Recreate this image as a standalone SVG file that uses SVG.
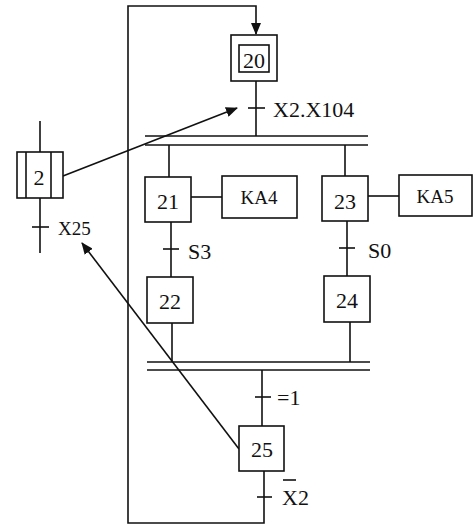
<svg xmlns="http://www.w3.org/2000/svg" width="474" height="525" viewBox="0 0 474 525">
<style>
.b{fill:#fff;stroke:#111;stroke-width:1.6}
.l{fill:none;stroke:#111;stroke-width:1.6}
.t{font-family:"Liberation Serif","Times New Roman",serif;font-size:22px;fill:#111}
.s{font-size:19px}
.m{text-anchor:middle}
</style>
<defs>
<marker id="ah" markerWidth="12" markerHeight="10" refX="11" refY="5" orient="auto" markerUnits="userSpaceOnUse">
<path d="M0,0 L12,5 L0,10 Z" fill="#111"/>
</marker>
</defs>
<rect width="474" height="525" fill="#fff"/>
<g id="connectors">
<polyline class="l" points="264,471 264,523 128,523 128,6 256,6 256,34" marker-end="url(#ah)"/>
<line class="l" x1="256" y1="81" x2="256" y2="136"/>
<line class="l" x1="248" y1="108" x2="265" y2="108"/>
<line class="l" x1="145" y1="136" x2="368" y2="136"/>
<line class="l" x1="145" y1="145" x2="368" y2="145"/>
<line class="l" x1="169" y1="145" x2="169" y2="177"/>
<line class="l" x1="345" y1="145" x2="345" y2="176"/>
<line class="l" x1="191" y1="197" x2="222" y2="197"/>
<line class="l" x1="368" y1="196" x2="399" y2="196"/>
<line class="l" x1="171" y1="222" x2="171" y2="277"/>
<line class="l" x1="163" y1="249" x2="179" y2="249"/>
<line class="l" x1="347" y1="221" x2="347" y2="276"/>
<line class="l" x1="339" y1="248" x2="355" y2="248"/>
<line class="l" x1="172" y1="323" x2="172" y2="362"/>
<line class="l" x1="350" y1="322" x2="350" y2="362"/>
<line class="l" x1="147" y1="362" x2="370" y2="362"/>
<line class="l" x1="147" y1="370" x2="370" y2="370"/>
<line class="l" x1="262" y1="370" x2="262" y2="426"/>
<line class="l" x1="255" y1="397" x2="271" y2="397"/>
<line class="l" x1="257" y1="497" x2="272" y2="497"/>
<line class="l" x1="40" y1="121" x2="40" y2="152"/>
<line class="l" x1="40" y1="198" x2="40" y2="253"/>
<line class="l" x1="32" y1="227" x2="49" y2="227"/>
<line class="l" stroke-width="2" x1="63" y1="176" x2="237" y2="108" marker-end="url(#ah)"/>
<line class="l" stroke-width="2" x1="239" y1="449" x2="82" y2="243" marker-end="url(#ah)"/>
</g>
<g id="step20">
<rect class="b" x="231" y="35" width="46" height="46"/>
<rect class="b" x="239" y="45" width="30" height="27"/>
<text class="t m" x="254" y="68">20</text>
</g>
<g id="t20"><text class="t" x="273" y="117">X2.X104</text></g>
<g id="step21"><rect class="b" x="145" y="177" width="46" height="45"/><text class="t m" x="168" y="209">21</text></g>
<g id="ka4"><rect class="b" x="222" y="176" width="75" height="42"/><text class="t s m" x="259" y="204">KA4</text></g>
<g id="step23"><rect class="b" x="322" y="176" width="46" height="45"/><text class="t m" x="345" y="209">23</text></g>
<g id="ka5"><rect class="b" x="399" y="175" width="73" height="41"/><text class="t s m" x="435" y="203">KA5</text></g>
<g id="t21"><text class="t" x="188" y="259">S3</text></g>
<g id="t23"><text class="t" x="368" y="258">S0</text></g>
<g id="step22"><rect class="b" x="147" y="277" width="46" height="46"/><text class="t m" x="170" y="309">22</text></g>
<g id="step24"><rect class="b" x="324" y="276" width="46" height="46"/><text class="t m" x="347" y="308">24</text></g>
<g id="t22"><text class="t" x="277" y="405">=1</text></g>
<g id="step25"><rect class="b" x="239" y="426" width="45" height="45"/><text class="t m" x="262" y="457">25</text></g>
<g id="t25"><text class="t" x="282" y="505">X2</text><line class="l" x1="283" y1="480" x2="296" y2="480"/></g>
<g id="step2">
<rect class="b" x="17" y="152" width="46" height="46"/>
<line class="l" x1="26" y1="152" x2="26" y2="198"/>
<line class="l" x1="51" y1="152" x2="51" y2="198"/>
<text class="t m" x="39" y="185">2</text>
</g>
<g id="t2"><text class="t s" x="58" y="235">X25</text></g>
</svg>
